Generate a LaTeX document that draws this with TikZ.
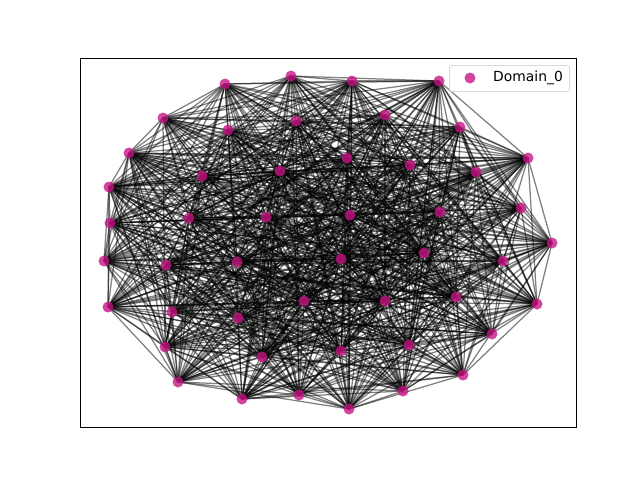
\documentclass[tikz,border=0pt]{standalone}
\usepackage{fontspec}
\setmainfont{DejaVu Sans}
\pgfdeclarelayer{bg}
\pgfsetlayers{bg,main}
\definecolor{dom}{RGB}{199,21,133}
\tikzset{
  dot/.style={circle, fill=dom, fill opacity=0.8, draw=none, minimum size=11pt, inner sep=0pt},
  edge/.style={draw=black, opacity=0.5, line width=1.25pt},
  frame/.style={draw=black, line width=0.9pt},
  legendbox/.style={draw=black!15, fill=white, fill opacity=0.8, rounded corners=2.5pt, line width=0.9pt}
}
\begin{document}
\begin{tikzpicture}[x=1pt,y=-1pt]
\useasboundingbox (0,0) rectangle (640,480);
\foreach \k/\x/\y in {
1/225/84, 2/291/76, 3/352/81, 4/439/81, 5/163/118, 6/228/130, 7/296/121, 8/385/115,
9/460/127, 10/129/153, 11/347/158, 12/410/165, 13/528/158, 14/280/171, 15/202/176, 16/476/172,
17/109/187, 18/521/208, 19/189/218, 20/266/217, 21/350/215, 22/440/212, 23/110/223, 24/552/243,
25/424/253, 26/104/261, 27/166/265, 28/237/262, 29/341/259, 30/503/261, 31/108/307, 32/304/301,
33/385/301, 34/456/297, 35/537/304, 36/172/312, 37/238/318, 38/492/334, 39/165/347, 40/409/345,
41/341/351, 42/262/357, 43/463/375, 44/178/382, 45/242/399, 46/299/395, 47/349/409, 48/403/391}
  \node[dot] (n\k) at (\x,\y) {};
\begin{pgfonlayer}{bg}
\pgfmathsetseed{7}
\foreach \i in {1,...,47}{
  \pgfmathtruncatemacro\s{\i+1}
  \foreach \j in {\s,...,48}{
    \pgfmathtruncatemacro\e{rnd<0.75}
    \ifnum\e=1 \draw[edge] (n\i.center) -- (n\j.center);\fi
  }
}
\end{pgfonlayer}
\draw[frame] (80,58) rectangle (576,427);
\node[legendbox, minimum width=120pt, minimum height=26pt, anchor=north west] (leg) at (449,65) {};
\node[dot] (legdot) at (470,78) {};
\node[anchor=west, font=\fontsize{13.9}{16}\selectfont, inner sep=0pt] (legtxt) at (493,78) {Domain\_0};
\end{tikzpicture}
\end{document}
